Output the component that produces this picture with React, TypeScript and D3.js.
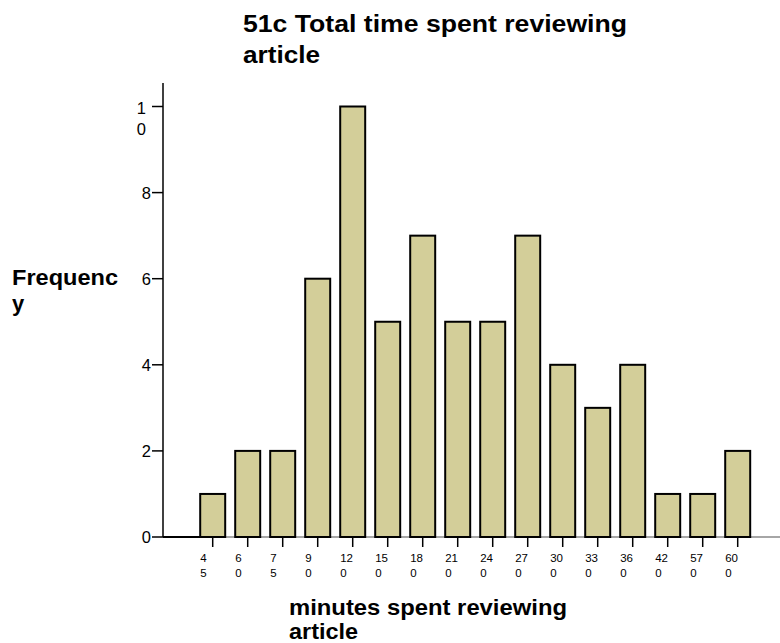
import React from "react";
import * as d3 from "d3";

const categories = ["45", "60", "75", "90", "120", "150", "180", "210", "240", "270", "300", "330", "360", "420", "570", "600"];
const frequencies = [1, 2, 2, 6, 10, 5, 7, 5, 5, 7, 4, 3, 4, 1, 1, 2];
const yTicks = [0, 2, 4, 6, 8, 10];
const titleLines = ["51c Total time spent reviewing", "article"];
const xLabelLines = ["minutes spent reviewing", "article"];
const yLabelLines = ["Frequenc", "y"];

const W = 780;
const H = 643;
const FONT = "'Liberation Sans', Arial, Helvetica, sans-serif";

export default function App() {
  const axisX = 163;
  const x = d3
    .scaleBand<string>()
    .domain(categories)
    .range([195.2, 755.2])
    .paddingInner(0.286)
    .paddingOuter(0.143);
  const y = d3.scaleLinear().domain([0, 10]).range([537, 106.5]);
  const bw = x.bandwidth();

  const splitLabel = (s: string) => [s.slice(0, -1), s.slice(-1)];

  const titleLen = [384, 77];
  const xLabLen = [278, 69];
  const yLabLen = [106, undefined];

  return (
    <svg
      width={W}
      height={H}
      style={{ position: "absolute", left: 0, top: 0, background: "#fff" }}
      fontFamily={FONT}
    >
      <rect x={0} y={0} width={W} height={H} fill="#fff" />
      {/* title */}
      {titleLines.map((t, i) => (
        <text
          key={i}
          x={243}
          y={32 + i * 31}
          fontSize={23}
          fontWeight="bold"
          fill="#000"
          textLength={titleLen[i]}
          lengthAdjust="spacingAndGlyphs"
        >
          {t}
        </text>
      ))}
      {/* y label */}
      {yLabelLines.map((t, i) => (
        <text
          key={i}
          x={12}
          y={285 + i * 26}
          fontSize={22}
          fontWeight="bold"
          fill="#000"
          textLength={yLabLen[i]}
          lengthAdjust="spacingAndGlyphs"
        >
          {t}
        </text>
      ))}
      {/* x label */}
      {xLabelLines.map((t, i) => (
        <text
          key={i}
          x={289}
          y={615 + i * 24}
          fontSize={22}
          fontWeight="bold"
          fill="#000"
          textLength={xLabLen[i]}
          lengthAdjust="spacingAndGlyphs"
        >
          {t}
        </text>
      ))}
      {/* x axis line */}
      <line x1={axisX} x2={780} y1={y(0)} y2={y(0)} stroke="#888" strokeWidth={1.5} />
      <line x1={axisX} x2={x(categories[0])!} y1={y(0)} y2={y(0)} stroke="#000" strokeWidth={2} />
      {/* bars */}
      {categories.map((c, i) => (
        <rect
          key={c}
          x={x(c)!}
          y={y(frequencies[i])}
          width={bw}
          height={y(0) - y(frequencies[i])}
          fill="#d3ce99"
          stroke="#000"
          strokeWidth={2}
        />
      ))}
      {/* x ticks */}
      {categories.map((c) => {
        const cx = x(c)! + bw / 2;
        const [l1, l2] = splitLabel(c);
        return (
          <g key={c}>
            <line x1={cx} x2={cx} y1={y(0)} y2={y(0) + 10} stroke="#000" strokeWidth={1.5} />
            <text x={cx - 12.5} y={562} fontSize={11.5} fill="#000">
              {l1}
            </text>
            <text x={cx - 12.5} y={577} fontSize={11.5} fill="#000">
              {l2}
            </text>
          </g>
        );
      })}
      {/* y axis */}
      <line x1={axisX} x2={axisX} y1={83} y2={y(0)} stroke="#000" strokeWidth={1.5} />
      {yTicks.map((v) => {
        const ty = y(v);
        const s = String(v);
        return (
          <g key={v}>
            <line x1={152} x2={axisX} y1={ty} y2={ty} stroke="#000" strokeWidth={1.5} />
            {s.length > 1 ? (
              <>
                <text x={146} y={ty + 7} fontSize={16.5} textAnchor="end" fill="#000">
                  {s.slice(0, -1)}
                </text>
                <text x={146} y={ty + 28} fontSize={16.5} textAnchor="end" fill="#000">
                  {s.slice(-1)}
                </text>
              </>
            ) : (
              <text x={151} y={ty + 6} fontSize={16.5} textAnchor="end" fill="#000">
                {s}
              </text>
            )}
          </g>
        );
      })}
    </svg>
  );
}
